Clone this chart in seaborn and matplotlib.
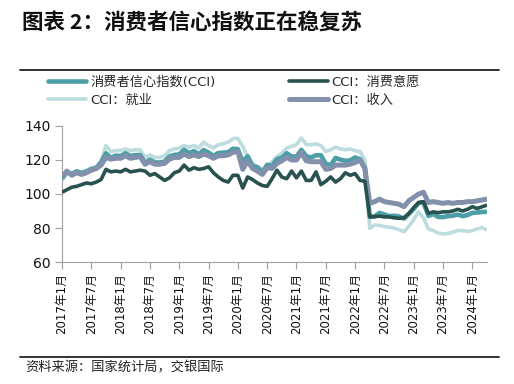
import numpy as np
import pandas as pd
import matplotlib
matplotlib.use("Agg")
import matplotlib.pyplot as plt
from matplotlib.lines import Line2D
import seaborn as sns

# ---------------- data ----------------
tick_labels = ["2017年1月", "2017年7月", "2018年1月", "2018年7月", "2019年1月",
               "2019年7月", "2020年1月", "2020年7月", "2021年1月", "2021年7月",
               "2022年1月", "2022年7月", "2023年1月", "2023年7月", "2024年1月"]

cci = [109.2, 113.0, 111.8, 113.3, 112.3, 113.2, 114.6, 115.2, 118.6, 123.9, 121.3, 122.6,
       122.3, 124.0, 122.3, 122.9, 122.9, 118.2, 120.2, 118.6, 118.5, 119.1, 122.1, 123.0,
       123.3, 126.0, 124.1, 125.3, 123.4, 125.9, 124.4, 122.4, 124.1, 124.3, 124.6, 126.6,
       126.4, 118.9, 122.2, 116.4, 115.8, 112.6, 117.2, 116.6, 120.5, 121.3, 124.0, 122.1,
       122.0, 126.0, 122.2, 121.5, 122.8, 122.8, 117.8, 117.0, 121.2, 120.2, 119.5, 119.8,
       121.5, 120.5, 115.5, 86.7, 86.8, 88.9, 87.9, 87.0, 87.2, 86.8, 85.5, 88.3,
       91.2, 94.7, 94.9, 87.1, 88.2, 86.5, 86.4, 87.0, 87.2, 87.9, 87.0, 87.6,
       88.9, 89.1, 89.4, 89.6]

willingness = [101.0, 102.5, 104.0, 104.5, 105.5, 106.5, 106.0, 107.0, 108.5, 114.5, 113.0, 113.5,
               113.0, 114.5, 113.0, 113.5, 114.0, 113.5, 111.0, 112.0, 110.0, 108.0, 109.5, 112.5,
               113.5, 117.0, 114.0, 115.5, 114.5, 115.0, 116.0, 112.5, 110.0, 108.0, 107.0, 111.0,
               111.0, 103.5, 110.0, 108.5, 106.5, 105.0, 104.5, 109.0, 114.0, 110.0, 109.0, 113.5,
               109.5, 113.5, 108.0, 108.0, 113.0, 105.5, 107.5, 110.0, 107.0, 109.0, 112.5, 111.0,
               112.0, 108.0, 107.5, 86.5, 86.7, 87.0, 86.5, 86.5, 86.0, 85.7, 86.0, 88.5,
               92.0, 95.0, 95.5, 88.6, 89.5, 89.0, 89.5, 89.5, 90.0, 91.0, 90.0, 91.0,
               92.5, 91.5, 92.5, 93.5]

employment = [108.0, 112.0, 112.0, 113.5, 113.0, 114.0, 115.5, 116.0, 119.5, 128.5, 125.0, 125.5,
              125.5, 126.5, 125.5, 126.0, 126.0, 121.5, 123.0, 121.5, 121.5, 122.5, 125.5, 126.5,
              127.0, 128.5, 127.5, 128.5, 127.0, 130.5, 128.5, 127.0, 129.0, 129.5, 130.5, 132.5,
              132.7, 128.0, 122.0, 118.0, 116.0, 114.5, 116.0, 119.0, 122.0, 124.0, 127.0, 128.0,
              129.0, 133.0, 129.0, 129.0, 129.5, 128.5, 125.0, 126.0, 127.5, 126.5, 126.0, 126.5,
              125.5, 125.0, 120.0, 79.8, 81.8, 81.5, 80.8, 80.5, 80.0, 79.0, 77.8, 81.0,
              85.0, 89.5, 86.0, 79.5, 78.5, 77.0, 76.5, 76.8, 77.5, 78.5, 78.5, 78.0,
              78.5, 79.5, 80.2, 78.8]

income = [110.0, 113.5, 111.0, 112.5, 111.5, 112.5, 114.0, 115.0, 117.0, 121.5, 120.5, 121.0,
          121.0, 122.5, 121.0, 121.5, 122.0, 117.5, 119.0, 117.5, 117.5, 118.0, 120.5, 121.5,
          121.5, 123.5, 122.0, 123.0, 122.0, 123.5, 122.5, 121.0, 122.5, 122.5, 123.0, 124.5,
          125.0, 114.5, 119.5, 115.0, 113.5, 111.5, 115.5, 115.0, 118.0, 119.5, 121.5, 120.0,
          120.0, 124.3, 119.5, 119.0, 119.0, 119.0, 114.5, 115.0, 117.0, 117.0, 117.0, 117.5,
          118.5, 120.0, 115.0, 94.5, 95.5, 97.0, 95.5, 95.0, 94.5, 94.0, 92.5, 96.0,
          98.0, 100.0, 101.0, 95.0, 95.5, 95.0, 94.5, 95.0, 94.5, 95.0, 95.0, 95.5,
          95.5, 96.0, 96.5, 97.0]

series_names = ["消费者信心指数(CCI)", "CCI：消费意愿", "CCI：就业", "CCI：收入"]
series_values = [cci, willingness, employment, income]

# ---------------- styles ----------------
colors = {"消费者信心指数(CCI)": "#4c9fa6",
          "CCI：消费意愿": "#28524f",
          "CCI：就业": "#bcdcde",
          "CCI：收入": "#8290ab"}
widths = {"消费者信心指数(CCI)": 3.3,
          "CCI：消费意愿": 2.6,
          "CCI：就业": 2.6,
          "CCI：收入": 3.6}
zorders = {"消费者信心指数(CCI)": 3, "CCI：消费意愿": 5, "CCI：就业": 2, "CCI：收入": 4}

sns.set_theme(style="white")
plt.rcParams["font.family"] = ["DejaVu Sans", "Noto Sans CJK SC"]

W, H = 514, 384
fig = plt.figure(figsize=(W / 100, H / 100), dpi=100)
ax = fig.add_axes([62 / W, 1 - 262 / H, (487 - 62) / W, (262 - 126) / H])

n = len(cci)
month_idx = np.arange(n)
df = pd.DataFrame({"m": np.tile(month_idx, 4),
                   "value": np.concatenate(series_values),
                   "series": np.repeat(series_names, n)})

for name in series_names:
    sub = df[df["series"] == name]
    sns.lineplot(data=sub, x="m", y="value", ax=ax, color=colors[name],
                 linewidth=widths[name], zorder=zorders[name], legend=False,
                 solid_joinstyle="round", solid_capstyle="butt")

ax.set_xlim(0, n - 1)
ax.set_ylim(60, 140)
ax.set_yticks([60, 80, 100, 120, 140])
ax.set_xticks(np.arange(0, n, 6)[:len(tick_labels)])
ax.set_xticklabels(tick_labels, rotation=90, fontsize=8.5,
                   family=["DejaVu Sans", "Noto Sans CJK SC"])
ax.tick_params(axis="y", labelsize=10, length=5, width=0.8, color="#a0a0a0",
               direction="out", pad=3, left=True, labelcolor="#111111")
ax.tick_params(axis="x", length=5, width=0.8, color="#a0a0a0", direction="out",
               pad=3, bottom=True, labelcolor="#111111")
ax.set_xlabel("")
ax.set_ylabel("")
for s in ["top", "right"]:
    ax.spines[s].set_visible(False)
for s in ["left", "bottom"]:
    ax.spines[s].set_color("#a0a0a0")
    ax.spines[s].set_linewidth(0.8)

# legend (column-major fill -> rows: CCI | 消费意愿 ; 就业 | 收入)
order = ["消费者信心指数(CCI)", "CCI：就业", "CCI：消费意愿", "CCI：收入"]
leg_handles = [Line2D([0], [0], color=colors[k], linewidth=widths[k]) for k in order]
fig.legend(leg_handles, order, loc="upper left", ncol=2,
           bbox_to_anchor=(44 / W, 1 - 72 / H), frameon=False,
           handlelength=2.9, handletextpad=0.3, columnspacing=5.6,
           labelspacing=0.35, borderaxespad=0, borderpad=0.3,
           prop={"family": ["DejaVu Sans", "Noto Sans CJK SC"], "size": 9.5})

# title and rules
fig.text(22 / W, 1 - 22 / H, "图表 2：消费者信心指数正在稳复苏", fontsize=15.5,
         fontweight="bold", family=["Noto Sans CJK SC", "DejaVu Sans"],
         va="center", ha="left", color="#111111")
fig.add_artist(Line2D([20 / W, 499 / W], [1 - 70 / H, 1 - 70 / H],
                      color="#222222", linewidth=1.3, transform=fig.transFigure))
fig.add_artist(Line2D([20 / W, 499 / W], [1 - 357 / H, 1 - 357 / H],
                      color="#222222", linewidth=1.3, transform=fig.transFigure))
fig.text(25 / W, 1 - 368 / H, "资料来源：国家统计局，交银国际", fontsize=9.5,
         family=["Noto Sans CJK SC", "DejaVu Sans"], style="italic",
         va="center", ha="left", color="#222222")

fig.savefig("out.png", dpi=100)
